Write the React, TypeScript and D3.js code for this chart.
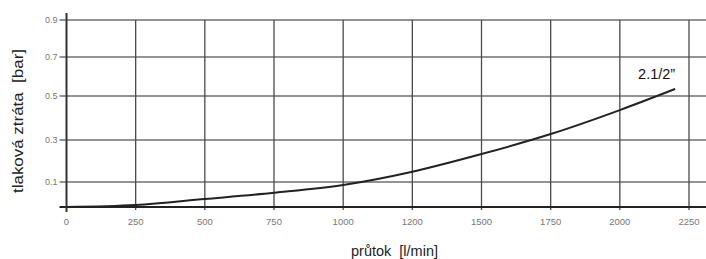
import React, { useRef, useEffect } from 'react';
import * as d3 from 'd3';

// flow [l/min] and pressure loss [bar]
const flow = [0, 250, 500, 750, 1000, 1250, 1500, 1750, 2000, 2200];
const loss = [0, 0.008, 0.032, 0.057, 0.088, 0.149, 0.233, 0.327, 0.436, 0.536];

const xTicks = [0, 250, 500, 750, 1000, 1250, 1500, 1750, 2000, 2250];
const xTickLabels = ['0', '250', '500', '750', '1000', '1200', '1500', '1750', '2000', '2250'];
const yTicks = [0.1, 0.3, 0.5, 0.7, 0.9];
const yTickLabels = ['0.1', '0.3', '0.5', '0.7', '0.9'];
const seriesLabel = '2.1/2”';

const width = 706;
const height = 259;

const App: React.FC = () => {
  const svgRef = useRef<SVGSVGElement>(null);

  useEffect(() => {
    if (!svgRef.current) return;
    const svg = d3.select(svgRef.current);
    svg.selectAll('*').remove();

    const font = '"Liberation Sans", Arial, sans-serif';

    const x = d3.scaleLinear().domain([0, 2250]).range([66.5, 689]);
    // the printed scale is not quite even, so map each gridline
    const y = d3
      .scaleLinear()
      .domain([0, 0.1, 0.3, 0.5, 0.7, 0.9])
      .range([207, 182, 140, 96, 57, 20]);

    const right = width;
    const bottom = y(0);

    // horizontal grid
    svg
      .append('g')
      .selectAll('line')
      .data(yTicks)
      .enter()
      .append('line')
      .attr('x1', x(0) - 7)
      .attr('x2', right)
      .attr('y1', (d) => y(d))
      .attr('y2', (d) => y(d))
      .attr('stroke', '#6f6f6f')
      .attr('stroke-width', 1.3);

    // vertical grid
    svg
      .append('g')
      .selectAll('line')
      .data(xTicks.slice(1))
      .enter()
      .append('line')
      .attr('x1', (d) => x(d))
      .attr('x2', (d) => x(d))
      .attr('y1', y(0.9))
      .attr('y2', bottom + 3)
      .attr('stroke', '#4a4a4a')
      .attr('stroke-width', 1.3);

    // baseline and y axis
    svg
      .append('line')
      .attr('x1', x(0) - 7)
      .attr('x2', right)
      .attr('y1', bottom)
      .attr('y2', bottom)
      .attr('stroke', '#222')
      .attr('stroke-width', 2);

    svg
      .append('line')
      .attr('x1', x(0))
      .attr('x2', x(0))
      .attr('y1', 13)
      .attr('y2', bottom + 5)
      .attr('stroke', '#333')
      .attr('stroke-width', 2);

    // tick labels
    svg
      .append('g')
      .selectAll('text')
      .data(yTicks)
      .enter()
      .append('text')
      .attr('x', x(0) - 9)
      .attr('y', (d) => y(d))
      .attr('dy', '0.35em')
      .attr('text-anchor', 'end')
      .attr('font-family', font)
      .attr('font-size', 9)
      .attr('fill', '#777')
      .text((_, i) => yTickLabels[i]);

    svg
      .append('g')
      .selectAll('text')
      .data(xTicks)
      .enter()
      .append('text')
      .attr('x', (d) => x(d))
      .attr('y', bottom + 18)
      .attr('text-anchor', 'middle')
      .attr('font-family', font)
      .attr('font-size', 9.5)
      .attr('fill', '#777')
      .text((_, i) => xTickLabels[i]);

    // curve
    const line = d3
      .line<number>()
      .x((_, i) => x(flow[i]))
      .y((d) => y(d))
      .curve(d3.curveMonotoneX);

    svg
      .append('path')
      .datum(loss)
      .attr('d', line)
      .attr('fill', 'none')
      .attr('stroke', '#222')
      .attr('stroke-width', 2);

    svg
      .append('text')
      .attr('x', x(flow[flow.length - 1]))
      .attr('y', y(loss[loss.length - 1]) - 10)
      .attr('text-anchor', 'end')
      .attr('font-family', font)
      .attr('font-size', 14.5)
      .attr('fill', '#111')
      .text(seriesLabel);

    // axis titles
    svg
      .append('text')
      .attr('transform', `translate(22.5,121) rotate(-90)`)
      .attr('text-anchor', 'middle')
      .attr('font-family', font)
      .attr('font-size', 15)
      .attr('textLength', 144)
      .attr('lengthAdjust', 'spacingAndGlyphs')
      .attr('fill', '#222')
      .style('white-space', 'pre')
      .text('tlaková ztráta  [bar]');

    svg
      .append('text')
      .attr('x', 394.5)
      .attr('y', 256)
      .attr('text-anchor', 'middle')
      .attr('font-family', font)
      .attr('font-size', 14.5)
      .attr('fill', '#222')
      .style('white-space', 'pre')
      .text('průtok  [l/min]');
  }, []);

  return (
    <svg
      ref={svgRef}
      width={width}
      height={height}
      style={{ position: 'absolute', left: 0, top: 0, background: '#fff' }}
    />
  );
};

export default App;
